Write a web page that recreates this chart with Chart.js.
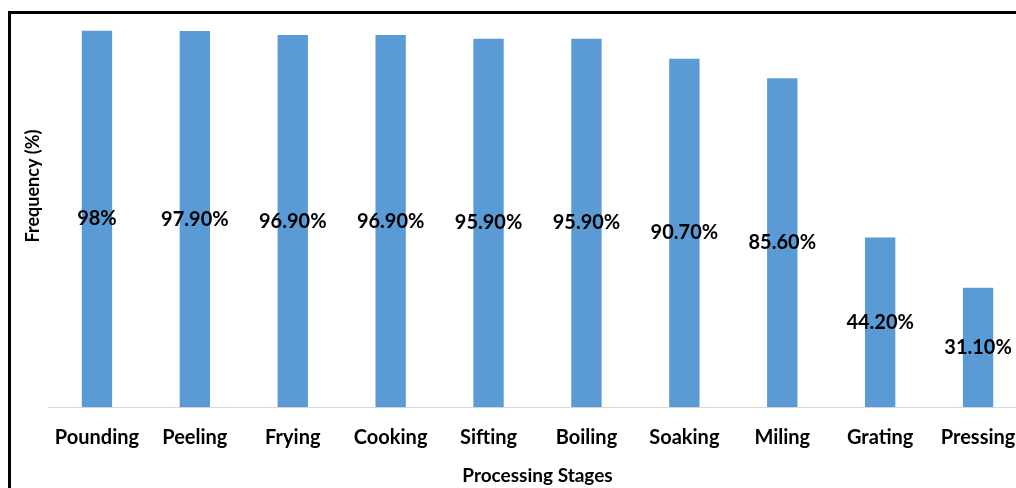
<!DOCTYPE html>
<html>
<head>
<meta charset="utf-8">
<script src="https://cdn.jsdelivr.net/npm/chart.js@4/dist/chart.umd.min.js"></script>
<style>
  html, body { margin: 0; padding: 0; background: #fff; overflow: hidden; }
  #wrap { position: absolute; left: 0; top: 0; width: 1040px; height: 488px; }
  #frame { position: absolute; left: 8px; top: 11px; width: 1100px; height: 600px;
           border-left: 3px solid #000; border-top: 3px solid #000; pointer-events: none; }
</style>
</head>
<body>
<div id="wrap"><canvas id="bar-chart"></canvas></div>
<div id="frame"></div>
<script>
  const stages = ['Pounding', 'Peeling', 'Frying', 'Cooking', 'Sifting', 'Boiling', 'Soaking', 'Miling', 'Grating', 'Pressing'];
  const frequency = [98, 97.9, 96.9, 96.9, 95.9, 95.9, 90.7, 85.6, 44.2, 31.1];
  const valueLabels = ['98%', '97.90%', '96.90%', '96.90%', '95.90%', '95.90%', '90.70%', '85.60%', '44.20%', '31.10%'];

  const fontFamily = 'Lato, "Open Sans", sans-serif';

  // value labels sit in the middle of each bar
  const barLabels = {
    id: 'barLabels',
    afterDatasetsDraw(chart) {
      const ctx = chart.ctx;
      const meta = chart.getDatasetMeta(0);
      ctx.save();
      ctx.font = 'bold 20px ' + fontFamily;
      ctx.fillStyle = '#000';
      ctx.textAlign = 'center';
      ctx.textBaseline = 'middle';
      meta.data.forEach((bar, i) => {
        ctx.fillText(valueLabels[i], bar.x, (bar.y + bar.base) / 2);
      });
      ctx.restore();
    }
  };

  // y title, placed where the original has it
  const yTitle = {
    id: 'yTitle',
    afterDraw(chart) {
      const ctx = chart.ctx;
      ctx.save();
      ctx.translate(33, 186);
      ctx.rotate(-Math.PI / 2);
      ctx.font = 'bold 18px ' + fontFamily;
      ctx.fillStyle = '#000';
      ctx.textAlign = 'center';
      ctx.textBaseline = 'middle';
      ctx.fillText('Frequency (%)', 0, 0);
      ctx.restore();
    }
  };

  const ctx = document.getElementById('bar-chart').getContext('2d');
  const barChart = new Chart(ctx, {
    type: 'bar',
    data: {
      labels: stages,
      datasets: [{
        label: 'Frequency (%)',
        data: frequency,
        backgroundColor: '#5B9BD5',
        borderWidth: 0,
        barPercentage: 0.31,
        categoryPercentage: 1
      }]
    },
    options: {
      responsive: true,
      maintainAspectRatio: false,
      animation: false,
      layout: { padding: { top: 23, right: 13, bottom: 0, left: 0 } },
      plugins: {
        legend: { display: false },
        tooltip: { enabled: false }
      },
      scales: {
        x: {
          grid: { display: false, drawTicks: false },
          border: { display: true, color: '#d9d9d9', width: 1 },
          ticks: { color: '#000', padding: 18, font: { family: fontFamily, size: 20, weight: 'bold' } },
          title: {
            display: true, text: 'Processing Stages', color: '#000',
            padding: { top: -3, bottom: 1 },
            font: { family: fontFamily, size: 19, weight: 'bold' }
          }
        },
        y: {
          min: 0,
          max: 100,
          grid: { display: false, drawTicks: false },
          border: { display: false },
          ticks: { display: false },
          afterFit(axis) { axis.width = 48; }
        }
      }
    },
    plugins: [barLabels, yTitle]
  });
</script>
</body>
</html>
